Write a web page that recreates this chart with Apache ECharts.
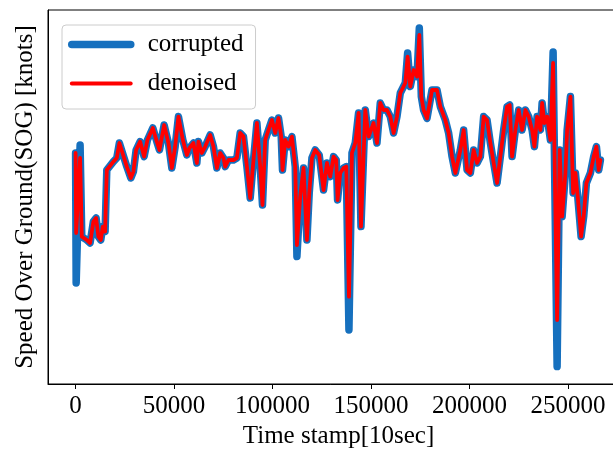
<!DOCTYPE html>
<html>
<head>
<meta charset="utf-8">
<title>Speed Over Ground</title>
<script src="https://cdn.jsdelivr.net/npm/echarts@6/dist/echarts.min.js"></script>
<style>
  html, body { margin: 0; padding: 0; background: #fff; }
  #chart { width: 613px; height: 451px; }
</style>
</head>
<body>
<div id="chart"></div>
<script>
// Time stamps (units of 10 s) at which the speed trace changes direction
const timeStamps = [
  0, 300, 2300, 3150, 5690, 7370, 9040, 10420, 11580, 12800,
  13820, 14990, 15850, 19210, 20930, 22250, 26010, 28050, 29370, 30740,
  32770, 34800, 36480, 39230, 41260, 42580, 44970, 47150, 48880, 50560,
  52230, 54470, 56500, 57820, 59850, 61580, 62390, 64120, 65800, 68340,
  70010, 71740, 73420, 75100, 75960, 77640, 80180, 81900, 83580, 85260,
  86990, 88660, 90340, 92070, 93740, 94910, 96280, 97960, 99690, 101360,
  103040, 104410, 105070, 106440, 108120, 109850, 111530, 112390, 114060, 115740,
  117470, 118640, 120010, 121690, 123700, 125910, 127640, 129310, 130990, 132360,
  133020, 134390, 136070, 137440, 138800, 140340, 142010, 143690, 144910, 147090,
  148770, 151310, 153040, 154710, 156390, 158120, 159800, 161470, 163200, 164880,
  167420, 168590, 169960, 171630, 173360, 174530, 175550, 176710, 178440, 180980,
  183520, 185200, 187740, 189420, 191150, 192820, 195360, 197040, 198770, 200450,
  202120, 203850, 205530, 207200, 208930, 210610, 212280, 214010, 215690, 217360,
  219090, 220420, 221640, 223310, 224990, 226720, 228400, 230070, 231800, 232970,
  234340, 236020, 236880, 238050, 239420, 241100, 242470, 244500, 245810, 247040,
  248720, 249580, 251260, 252630, 253800, 254970, 256680, 258000, 259380, 261410,
  263080, 264460, 265620, 266490
];

// Raw AIS speed over ground [knots]
const corruptedSog = [
  11.55, 5.05, 11.95, 7.37, 7.2, 7.05, 8.12, 8.3, 7.37, 7.2,
  7.87, 7.62, 10.7, 11.12, 11.3, 12.05, 10.87, 10.3, 10.62, 11.7,
  12.12, 11.37, 12.2, 12.8, 12.12, 11.7, 12.95, 12.05, 10.8, 11.87,
  13.37, 12.2, 11.45, 11.8, 12.05, 11.05, 12.12, 11.55, 11.87, 12.45,
  11.87, 10.8, 11.55, 11.3, 10.87, 11.2, 11.2, 11.3, 12.55, 12.37,
  10.87, 9.3, 11.2, 13.05, 10.87, 8.95, 12.2, 12.7, 13.2, 12.55,
  13.3, 12.37, 10.7, 12.2, 11.87, 12.37, 10.87, 6.37, 9.37, 10.8,
  7.2, 9.55, 11.3, 11.7, 11.45, 9.7, 11.05, 10.37, 11.37, 11.2,
  9.2, 10.55, 10.8, 10.87, 2.7, 11.55, 12.05, 13.55, 7.87, 13.7,
  12.37, 13.05, 12.05, 14.05, 13.7, 13.7, 13.37, 12.55, 13.37, 14.55,
  15.05, 16.55, 14.87, 15.7, 15.37, 17.8, 14.37, 13.7, 13.28, 14.7,
  14.7, 13.87, 13.2, 12.55, 11.37, 10.55, 11.7, 12.7, 10.7, 10.55,
  11.7, 11.05, 11.37, 13.37, 13.2, 12.05, 11.05, 10.05, 11.37, 12.7,
  13.87, 13.95, 11.37, 12.7, 13.7, 12.7, 13.7, 13.37, 12.7, 11.87,
  13.37, 12.7, 14.05, 13.05, 13.37, 12.2, 16.6, 0.87, 11.7, 8.37,
  10.55, 12.7, 14.37, 9.55, 10.55, 9.37, 7.37, 8.37, 10.05, 10.55,
  11.37, 11.87, 10.7, 11.2
];

// Denoised speed over ground [knots]
const denoisedSog = [
  11.55, 7.55, 11.3, 7.37, 7.2, 7.05, 8.12, 8.3, 7.37, 7.2,
  7.87, 7.62, 10.7, 11.12, 11.3, 12.05, 10.87, 10.3, 10.62, 11.7,
  12.12, 11.37, 12.2, 12.8, 12.12, 11.7, 12.95, 12.05, 10.8, 11.87,
  13.37, 12.2, 11.45, 11.8, 12.05, 11.05, 12.12, 11.55, 11.87, 12.45,
  11.87, 10.8, 11.55, 11.3, 10.87, 11.2, 11.2, 11.3, 12.55, 12.37,
  10.87, 9.3, 11.2, 13.05, 10.87, 8.95, 12.2, 12.7, 13.2, 12.55,
  13.3, 12.37, 10.7, 12.2, 11.87, 12.37, 10.87, 6.95, 9.37, 10.8,
  7.2, 9.55, 11.3, 11.7, 11.45, 9.7, 11.05, 10.37, 11.37, 11.2,
  9.2, 10.55, 10.8, 10.87, 4.37, 11.55, 12.05, 13.55, 7.87, 13.7,
  12.37, 13.05, 12.05, 14.05, 13.7, 13.7, 13.37, 12.55, 13.37, 14.55,
  15.05, 16.37, 14.87, 15.7, 15.37, 17.45, 14.37, 13.7, 13.28, 14.7,
  14.7, 13.87, 13.2, 12.55, 11.37, 10.55, 11.7, 12.7, 10.7, 10.55,
  11.7, 11.05, 11.37, 13.37, 13.2, 12.05, 11.05, 10.05, 11.37, 12.7,
  13.87, 13.95, 11.37, 12.7, 13.7, 12.7, 13.7, 13.37, 12.7, 11.87,
  13.37, 12.7, 14.05, 13.05, 13.37, 12.2, 16.05, 3.2, 11.7, 8.37,
  10.55, 12.7, 14.37, 9.55, 10.55, 9.37, 7.37, 8.37, 10.05, 10.55,
  11.37, 11.87, 10.7, 11.2
];

// Labelled positions on the time axis
const timeTicks = [0, 50000, 100000, 150000, 200000, 250000];

const seriesNames = ['corrupted', 'denoised'];

const FONT = '"Liberation Serif", "Times New Roman", serif';
const BLUE = '#1670be';
const RED = '#ff0000';

const pair = (ys) => timeStamps.map((t, i) => [t, ys[i]]);

const chart = echarts.init(document.getElementById('chart'), null, { renderer: 'canvas' });

chart.setOption({
  animation: false,
  backgroundColor: '#ffffff',
  grid: {
    left: 48,
    top: 10,
    width: 581,
    height: 374,
    show: true,
    borderColor: '#000',
    borderWidth: 1,
    outerBoundsMode: 'none',
    containLabel: false
  },
  legend: {
    data: seriesNames,
    orient: 'vertical',
    left: 62,
    top: 25,
    backgroundColor: 'rgba(255,255,255,0.8)',
    borderColor: '#cccccc',
    borderWidth: 1,
    borderRadius: 4,
    padding: [7, 12, 13, 6],
    itemWidth: 59,
    itemHeight: 22,
    itemGap: 14,
    // plain line keys, no marker
    itemStyle: { opacity: 0 },
    lineStyle: { width: 'inherit', opacity: 1 },
    textStyle: {
      fontFamily: FONT,
      fontSize: 25,
      color: '#000',
      padding: [0, 0, 0, 12]
    }
  },
  xAxis: {
    type: 'value',
    min: -14000,
    max: 281000,
    name: 'Time stamp[10sec]',
    nameLocation: 'middle',
    nameGap: 38,
    nameTextStyle: { fontFamily: FONT, fontSize: 25, color: '#000' },
    axisLine: { show: true, onZero: false, lineStyle: { color: '#000', width: 1 } },
    axisTick: {
      show: true,
      length: 5,
      customValues: timeTicks,
      lineStyle: { color: '#000', width: 1 }
    },
    axisLabel: {
      customValues: timeTicks,
      formatter: (v) => String(v),
      margin: 10,
      fontFamily: FONT,
      fontSize: 25,
      color: '#000'
    },
    splitLine: { show: false }
  },
  yAxis: {
    type: 'value',
    min: 0,
    max: 18.7,
    name: 'Speed Over Ground(SOG) [knots]',
    nameLocation: 'middle',
    nameGap: 10,
    nameTextStyle: { fontFamily: FONT, fontSize: 25, color: '#000' },
    axisLine: { show: true, onZero: false, lineStyle: { color: '#000', width: 1 } },
    axisTick: { show: false },
    axisLabel: { show: false },
    splitLine: { show: false }
  },
  series: [
    {
      name: seriesNames[0],
      type: 'line',
      data: pair(corruptedSog),
      showSymbol: false,
      symbol: 'none',
      z: 2,
      lineStyle: { color: BLUE, width: 7.5, cap: 'round', join: 'round' },
      itemStyle: { color: BLUE }
    },
    {
      name: seriesNames[1],
      type: 'line',
      data: pair(denoisedSog),
      showSymbol: false,
      symbol: 'none',
      z: 3,
      lineStyle: { color: RED, width: 3.8, cap: 'round', join: 'round' },
      itemStyle: { color: RED }
    }
  ]
});
</script>
</body>
</html>
